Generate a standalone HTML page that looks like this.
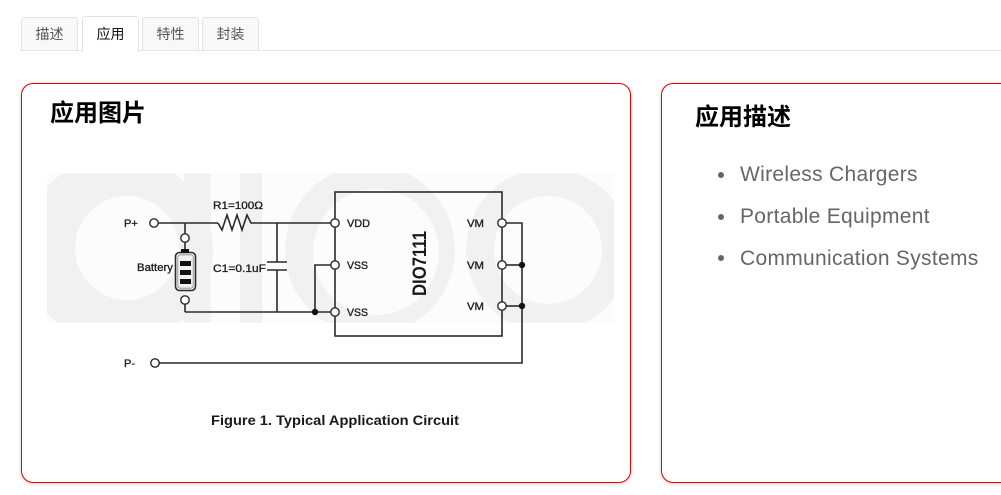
<!DOCTYPE html>
<html><head><meta charset="utf-8">
<style>
html,body{margin:0;padding:0;background:#fff;}
body{width:1001px;height:495px;overflow:hidden;position:relative;font-family:"Liberation Sans","Noto Sans CJK SC",sans-serif;}
.tab{position:absolute;top:17px;height:33px;width:55px;border:1px solid #e3e3e3;border-bottom:none;border-radius:3px 3px 0 0;background:#f8f8f8;color:#555;font-size:14px;line-height:33px;text-align:center;box-sizing:content-box;}
.tab.active{top:16px;height:35px;line-height:35px;background:#fff;color:#111;z-index:2;}
.tabline{position:absolute;top:50px;left:21px;right:0;height:1px;background:#e5e5e5;}
.card{position:absolute;top:83px;height:400px;box-sizing:border-box;border:1px solid #e60000;border-radius:12px;background:#fff;box-shadow:0 1px 4px rgba(0,0,0,0.18);}
.h{position:absolute;font-size:24px;font-weight:bold;color:#000;line-height:24px;white-space:nowrap;}
.li{position:absolute;left:740px;font-size:21px;letter-spacing:0.3px;color:#666;line-height:41.7px;white-space:nowrap;}
.dot{position:absolute;width:6px;height:6px;border-radius:50%;background:#666;}
svg{position:absolute;left:0;top:0;z-index:5;}
</style></head>
<body>
<div class="tab" style="left:21px;">描述</div>
<div class="tab active" style="left:82px;">应用</div>
<div class="tab" style="left:142px;">特性</div>
<div class="tab" style="left:202px;">封装</div>
<div class="tabline"></div>

<div class="card" style="left:21px;width:610px;"></div>
<div class="card" style="left:661px;width:400px;"></div>

<div class="h" style="left:50px;top:102px;z-index:6;">应用图片</div>
<div class="h" style="left:695px;top:106px;z-index:6;">应用描述</div>

<div class="dot" style="left:718px;top:172px;z-index:6;"></div>
<div class="dot" style="left:718px;top:213.5px;z-index:6;"></div>
<div class="dot" style="left:718px;top:255px;z-index:6;"></div>
<div class="li" style="top:154.4px;z-index:6;">Wireless Chargers</div>
<div class="li" style="top:196.1px;z-index:6;">Portable Equipment</div>
<div class="li" style="top:237.8px;z-index:6;">Communication Systems</div>

<svg width="1001" height="495" viewBox="0 0 1001 495" xmlns="http://www.w3.org/2000/svg">
<defs>
<clipPath id="band"><rect x="47" y="173" width="567" height="150"/></clipPath>
</defs>
<g clip-path="url(#band)" fill="#f1f1f1" fill-rule="evenodd">
<rect x="47" y="173" width="567" height="150" fill="#fcfcfc"/>
<path d="M118,250 m-95,0 a95,95 0 1,0 190,0 a95,95 0 1,0 -190,0 Z M127,248 m-52,0 a52,52 0 1,0 104,0 a52,52 0 1,0 -104,0 Z"/>
<rect x="184" y="173" width="27" height="150"/>
<rect x="240" y="173" width="22" height="150"/>
<path d="M370,250 m-85,0 a85,85 0 1,0 170,0 a85,85 0 1,0 -170,0 Z M376,252 m-63,0 a63,63 0 1,0 126,0 a63,63 0 1,0 -126,0 Z"/>
<path d="M548,250 m-82,0 a82,82 0 1,0 164,0 a82,82 0 1,0 -164,0 Z M548,250 m-54,0 a54,54 0 1,0 108,0 a54,54 0 1,0 -108,0 Z"/>
</g>

<g stroke="#2a2a2a" stroke-width="1.6" fill="none" stroke-linejoin="miter">
<line x1="158" y1="223" x2="218" y2="223"/>
<polyline points="218,223 222,230 227,215 232,230 237,215 242,230 247,215 251,223 331,223"/>
<line x1="185" y1="223" x2="185" y2="234"/>
<line x1="185" y1="242" x2="185" y2="250"/>
<rect x="175.5" y="252.5" width="20" height="38" rx="4"/>
<rect x="177.8" y="254.8" width="15.4" height="33.4" rx="2.5" stroke="#888" stroke-width="0.8"/>
<line x1="185" y1="304" x2="185" y2="312"/>
<line x1="277" y1="223" x2="277" y2="262"/>
<line x1="267" y1="262" x2="287" y2="262"/>
<line x1="267" y1="270" x2="287" y2="270"/>
<line x1="277" y1="270" x2="277" y2="312"/>
<line x1="185" y1="312" x2="331" y2="312"/>
<polyline points="315,312 315,265 331,265"/>
<rect x="335" y="192" width="167" height="144"/>
<polyline points="506,223 522,223 522,363 159,363"/>
<line x1="506" y1="265" x2="522" y2="265"/>
<line x1="506" y1="306" x2="522" y2="306"/>
</g>
<g fill="#111">
<rect x="181" y="249" width="8" height="4"/>
<rect x="180" y="261" width="11" height="5"/>
<rect x="180" y="270" width="11" height="5"/>
<rect x="180" y="279" width="11" height="5"/>
<circle cx="315" cy="312" r="3.2"/>
<circle cx="522" cy="265" r="3.2"/>
<circle cx="522" cy="306" r="3.2"/>
</g>
<g stroke="#2a2a2a" stroke-width="1.4" fill="#fff">
<circle cx="154" cy="223" r="4.2"/>
<circle cx="155" cy="363" r="4.2"/>
<circle cx="185" cy="238" r="4.2"/>
<circle cx="185" cy="300" r="4.2"/>
<circle cx="335" cy="223" r="4.2"/>
<circle cx="335" cy="265" r="4.2"/>
<circle cx="335" cy="312" r="4.2"/>
<circle cx="502" cy="223" r="4.2"/>
<circle cx="502" cy="265" r="4.2"/>
<circle cx="502" cy="306" r="4.2"/>
</g>
<g font-family="Liberation Sans, Arial, sans-serif" font-size="11" fill="#222" stroke="#222" stroke-width="0.35">
<text x="124" y="227">P+</text>
<text x="124" y="367">P-</text>
<text x="213" y="209" textLength="50" lengthAdjust="spacingAndGlyphs">R1=100Ω</text>
<text x="137" y="271" textLength="36" lengthAdjust="spacingAndGlyphs">Battery</text>
<text x="213" y="272" textLength="53" lengthAdjust="spacingAndGlyphs">C1=0.1uF</text>
<text x="347" y="227" textLength="23" lengthAdjust="spacingAndGlyphs">VDD</text>
<text x="347" y="269" textLength="21" lengthAdjust="spacingAndGlyphs">VSS</text>
<text x="347" y="316" textLength="21" lengthAdjust="spacingAndGlyphs">VSS</text>
<text x="467" y="227" textLength="17" lengthAdjust="spacingAndGlyphs">VM</text>
<text x="467" y="269" textLength="17" lengthAdjust="spacingAndGlyphs">VM</text>
<text x="467" y="310" textLength="17" lengthAdjust="spacingAndGlyphs">VM</text>
</g>
<text transform="translate(426,296) rotate(-90)" font-family="Liberation Sans, Arial, sans-serif" font-size="19" font-weight="bold" fill="#1a1a1a" textLength="65" lengthAdjust="spacingAndGlyphs">DIO7111</text>
<text x="211" y="425" font-family="Liberation Sans, Arial, sans-serif" font-size="14" font-weight="bold" fill="#1a1a1a" textLength="248" lengthAdjust="spacingAndGlyphs">Figure 1. Typical Application Circuit</text>
</svg>
</body></html>
